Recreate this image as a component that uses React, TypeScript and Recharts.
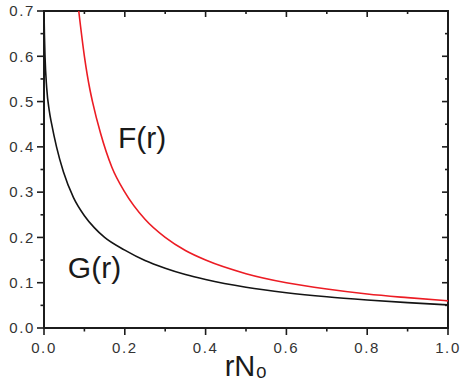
import React from "react";
import { LineChart, Line, XAxis, YAxis, ReferenceDot, ReferenceArea } from "recharts";

// ---- data ----
const gR = [0, 0.001, 0.0025, 0.0067, 0.013, 0.019, 0.031, 0.048, 0.073, 0.1, 0.125, 0.15, 0.2, 0.25, 0.3, 0.35, 0.4, 0.5, 0.6, 0.7, 0.8, 0.9, 1.0];
const gV = [0.70, 0.65, 0.60, 0.53, 0.48, 0.45, 0.40, 0.345, 0.288, 0.248, 0.221, 0.200, 0.172, 0.149, 0.132, 0.118, 0.107, 0.090, 0.078, 0.069, 0.062, 0.056, 0.051];

const fR = [0.086, 0.1, 0.114, 0.12, 0.14, 0.168, 0.2, 0.25, 0.3, 0.35, 0.4, 0.5, 0.6, 0.7, 0.8, 0.9, 1.0];
const fV = [0.70, 0.60, 0.525, 0.50, 0.43, 0.355, 0.30, 0.24, 0.20, 0.171, 0.150, 0.120, 0.100, 0.086, 0.075, 0.067, 0.060];

const X_MAJOR = [0, 0.2, 0.4, 0.6, 0.8, 1.0];
const X_MINOR = [0.1, 0.3, 0.5, 0.7, 0.9];
const Y_MAJOR = [0, 0.1, 0.2, 0.3, 0.4, 0.5, 0.6, 0.7];
const Y_MINOR = [0.05, 0.15, 0.25, 0.35, 0.45, 0.55, 0.65];

const X_TITLE = "rN₀";
const CURVE_LABELS = [
  { text: "F(r)", r: 0.183, v: 0.397 },
  { text: "G(r)", r: 0.059, v: 0.11 },
];

const gData = gR.map((r, i) => ({ r, g: gV[i] }));
const fData = fR.map((r, i) => ({ r, f: fV[i] }));

const FONT = "'Liberation Sans', Arial, Helvetica, sans-serif";
const AXIS = "#1c1c1c";
const tickFont = { fontFamily: FONT, fontSize: 15, fill: "#333333", letterSpacing: 1.6 };

const tickShape = (dir: string, len: number) => (p: any) =>
  dir === "down" ? (
    <rect x={p.cx - 0.8} y={p.cy} width={1.6} height={len} fill={AXIS} />
  ) : (
    <rect x={p.cx - len} y={p.cy - 0.8} width={len} height={1.6} fill={AXIS} />
  );

const tickSpecs = [
  ...X_MINOR.map((v) => ({ key: "bm" + v, x: v, y: 0, dir: "down", len: 3.5 })),
  ...X_MAJOR.map((v) => ({ key: "tM" + v, x: v, y: 0.7, dir: "down", len: 6 })),
  ...X_MINOR.map((v) => ({ key: "tm" + v, x: v, y: 0.7, dir: "down", len: 3 })),
  ...Y_MINOR.map((v) => ({ key: "lm" + v, x: 0, y: v, dir: "left", len: 3.5 })),
  ...Y_MAJOR.map((v) => ({ key: "rM" + v, x: 1, y: v, dir: "left", len: 6 })),
  ...Y_MINOR.map((v) => ({ key: "rm" + v, x: 1, y: v, dir: "left", len: 3 })),
];

export default function App() {
  return (
    <div style={{ position: "absolute", left: 0, top: 0, background: "#fff" }}>
      <LineChart width={463} height={386} margin={{ top: 11, right: 15, bottom: 0, left: 0 }}>
        <XAxis
          xAxisId="b"
          type="number"
          dataKey="r"
          domain={[0, 1]}
          ticks={X_MAJOR}
          height={58}
          stroke={AXIS}
          tickSize={7}
          tickMargin={7}
          tickLine={{ stroke: AXIS, strokeWidth: 1.6 }}
          tickFormatter={(v: number) => v.toFixed(1)}
          tick={tickFont}
          label={{ value: X_TITLE, position: "insideBottom", offset: 10, fontSize: 29, fontFamily: FONT, fill: "#1a1a1a" }}
        />
        <YAxis
          yAxisId="l"
          type="number"
          domain={[0, 0.7]}
          ticks={Y_MAJOR}
          width={44}
          stroke={AXIS}
          tickSize={7}
          tickMargin={2}
          tickLine={{ stroke: AXIS, strokeWidth: 1.6 }}
          tickFormatter={(v: number) => v.toFixed(1)}
          tick={tickFont}
        />
        <ReferenceArea
          xAxisId="b"
          yAxisId="l"
          x1={0}
          x2={1}
          y1={0}
          y2={0.7}
          fill="none"
          stroke={AXIS}
          strokeWidth={2}
          ifOverflow="visible"
        />
        <Line
          xAxisId="b"
          yAxisId="l"
          data={gData}
          dataKey="g"
          type="monotone"
          stroke="#141414"
          strokeWidth={1.6}
          dot={false}
          activeDot={false}
          isAnimationActive={false}
        />
        <Line
          xAxisId="b"
          yAxisId="l"
          data={fData}
          dataKey="f"
          type="monotone"
          stroke="#ec1c24"
          strokeWidth={1.6}
          dot={false}
          activeDot={false}
          isAnimationActive={false}
        />
        {tickSpecs.map((t) => (
          <ReferenceDot
            key={t.key}
            xAxisId="b"
            yAxisId="l"
            x={t.x}
            y={t.y}
            r={0}
            ifOverflow="visible"
            shape={tickShape(t.dir, t.len)}
          />
        ))}
        {CURVE_LABELS.map((l) => (
          <ReferenceDot
            key={l.text}
            xAxisId="b"
            yAxisId="l"
            x={l.r}
            y={l.v}
            r={0}
            ifOverflow="visible"
            shape={(p: any) => (
              <text x={p.cx} y={p.cy} fontFamily={FONT} fontSize={30} fill="#1a1a1a">
                {l.text}
              </text>
            )}
          />
        ))}
      </LineChart>
    </div>
  );
}
